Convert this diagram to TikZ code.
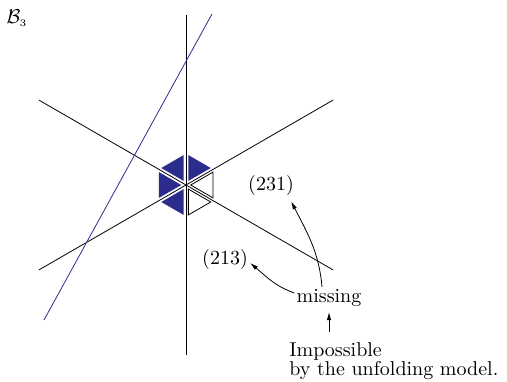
\documentclass[tikz,border=0pt]{standalone}
\usepackage{amsmath, amssymb}
\usetikzlibrary{calc, arrows.meta}
\definecolor{hexblue}{RGB}{44,44,140}

\begin{document}
\begin{tikzpicture}[x=0.5pt,y=0.5pt,
  filled/.style={fill=hexblue,draw=none},
  hollow/.style={draw=black,fill=white},
  lbl/.style={inner sep=1pt},
  >={Latex[length=4pt,width=2.2pt]}]
\useasboundingbox (-186,-196) rectangle (321,185);
% chambers round the origin
\foreach \a/\sty in {30/filled,90/filled,150/filled,210/filled,270/hollow,330/hollow}{
  \coordinate (c) at (\a+30:19.63);
  \path[\sty] ($(c)!0.76!(0,0)$) -- ($(c)!0.76!(\a:34)$) -- ($(c)!0.76!(\a+60:34)$) -- cycle;
}
% mirrors
\draw (90:170) -- (270:170);
\draw (30:170) -- (210:170);
\draw (150:170) -- (330:170);
\draw[hexblue] (-142,-135) -- (26,171);
% labels
\node (b3) at (-169,167) {$\mathcal{B}_{\scriptscriptstyle 3}$};
\node[lbl] (p231) at (85,0) {(231)};
\node[lbl] (p213) at (39,-74) {(213)};
\node[lbl] (miss) at (143,-113) {missing};
\node[lbl,align=left,anchor=north west] (imp) at (101,-155) {Impossible\\[-2.5pt]by the unfolding model.};
\draw[->] ([xshift=-3.5pt]miss.north) to[out=95,in=-63] ([xshift=-2.5pt,yshift=-2pt]p231.south east);
\draw[->] ([yshift=2.5pt]miss.west) to[out=160,in=-40] ([yshift=-2pt]p213.east);
\draw[->,shorten <=4pt,shorten >=1.5pt] (imp.north -| miss.south) -- (miss.south);
\end{tikzpicture}
\end{document}
